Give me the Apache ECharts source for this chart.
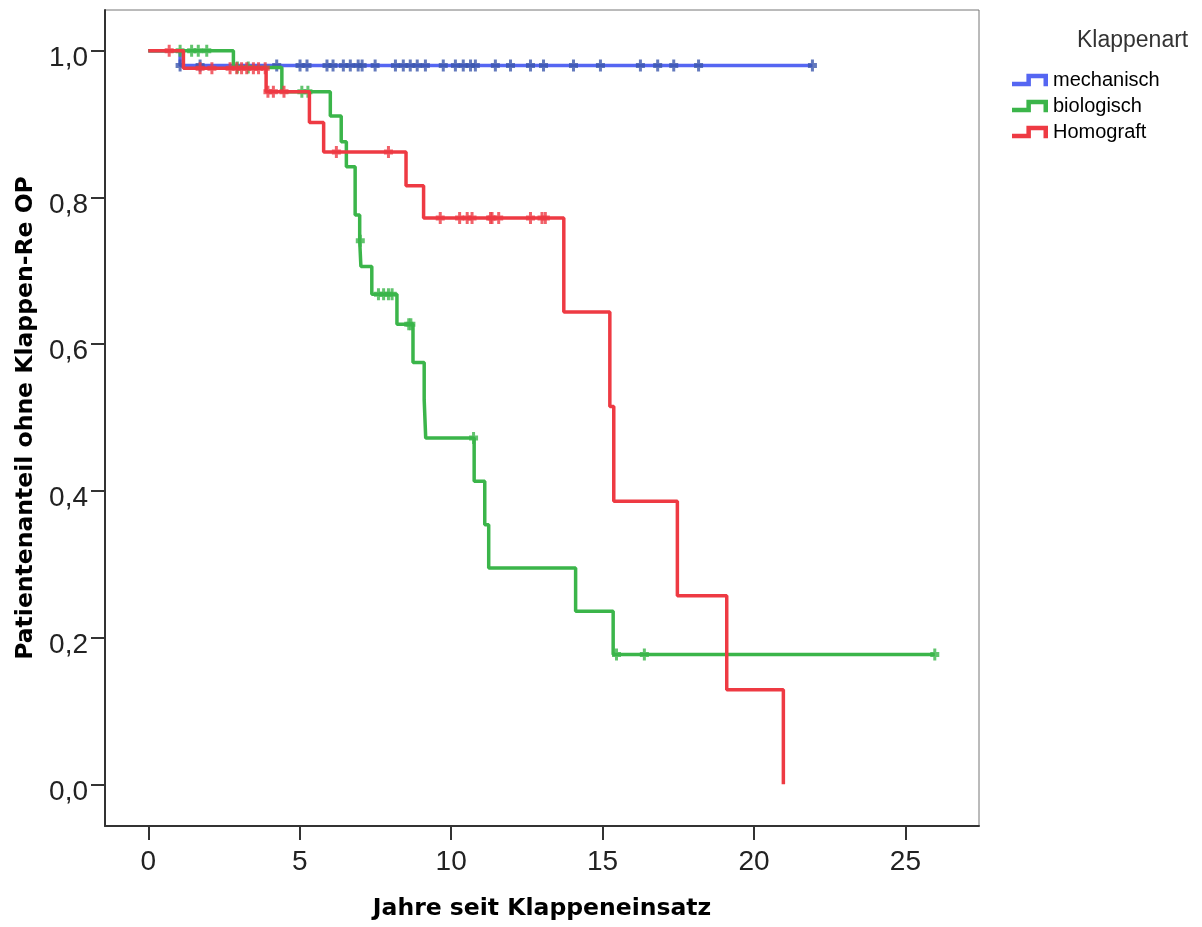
<!DOCTYPE html>
<html>
<head>
<meta charset="utf-8">
<script src="https://cdn.jsdelivr.net/npm/echarts@6/dist/echarts.min.js"></script>
<style>
  html, body { margin: 0; padding: 0; background: #ffffff; }
  #chart { width: 1202px; height: 927px; }
</style>
</head>
<body>
<div id="chart"></div>
<script>
// Kaplan-Meier-Kurven: Anteil der Patienten ohne Klappen-Re-OP, getrennt nach Klappenart

const groupNames = ['mechanisch', 'biologisch', 'Homograft'];
const legendTitle = 'Klappenart';
const xAxisTitle = 'Jahre seit Klappeneinsatz';
const yAxisTitle = 'Patientenanteil ohne Klappen-Re OP';

// Stufenzeitpunkte (Jahre) und Anteil nach der Stufe; letzter Eintrag = Ende der Nachbeobachtung
const mechTime = [0, 1.05, 21.93];
const mechSurv = [1.0, 0.980, 0.980];
const mechCensored = [1.05, 1.71, 4.24, 5.01, 5.24, 5.9, 6.1, 6.44, 6.67, 6.93, 7.06, 7.49,
  8.16, 8.42, 8.65, 8.88, 9.15, 9.74, 10.14, 10.40, 10.64, 10.80, 11.46, 11.96, 12.62,
  13.05, 14.04, 14.93, 16.25, 16.82, 17.35, 18.17, 21.93];

const bioTime = [0, 2.81, 4.41, 6.01, 6.37, 6.54, 6.83, 6.98, 7.02, 7.38, 8.21, 8.74,
  9.11, 9.16, 10.76, 11.11, 11.24, 14.11, 15.35, 25.97];
const bioSurv = [1.0, 0.977, 0.944, 0.911, 0.876, 0.842, 0.776, 0.741, 0.706, 0.668, 0.627, 0.575,
  0.524, 0.472, 0.413, 0.354, 0.295, 0.236, 0.177, 0.177];
const bioCensored = [1.05, 1.43, 1.65, 1.93, 2.94, 3.3, 5.07, 5.27, 7.0, 7.60, 7.77, 7.93, 8.05,
  8.60, 8.67, 10.74, 15.46, 16.38, 25.97];

const homTime = [0, 1.16, 3.89, 5.32, 5.79, 8.51, 9.09, 13.72, 15.24, 15.37, 17.47, 19.10, 20.97];
const homSurv = [1.0, 0.976, 0.944, 0.902, 0.862, 0.816, 0.772, 0.644, 0.515, 0.386, 0.257, 0.129, 0.0];
const homCensored = [0.69, 1.71, 2.10, 2.70, 2.92, 3.08, 3.25, 3.47, 3.64, 3.86, 3.95, 4.13, 4.48,
  6.21, 7.93, 9.64, 10.28, 10.53, 10.69, 11.30, 11.35, 11.57, 12.62, 13.0, 13.11];

const xTicks = [0, 5, 10, 15, 20, 25];
const yTicks = [0, 0.2, 0.4, 0.6, 0.8, 1.0];

const lineColors = ['#5566f2', '#3bb54a', '#ee3a43'];
const markColors = ['#3c58ad', '#3bb54a', '#ee3a43'];

// Punkte der Treppenkurve
function stepPoints(time, surv) {
  return time.map((t, i) => [t, surv[i]]);
}
// Anteil zum Zeitpunkt t (rechtsstetige Treppenfunktion)
function survivalAt(time, surv, t) {
  let s = surv[0];
  for (let i = 0; i < time.length; i++) {
    if (time[i] <= t + 1e-9) s = surv[i];
  }
  return s;
}
function censorPoints(time, surv, cens) {
  return cens.map(t => [t, survivalAt(time, surv, t)]);
}

// Zensierungsmarke "+"
const plusMark = 'path://M3,0L6,0L6,3.5L9,3.5L9,8.5L6,8.5L6,12L3,12L3,8.5L0,8.5L0,3.5L3,3.5Z';
// Legendensymbol: kleine Treppenstufe
const stepIcon = 'path://M0,9L16,9L16,0L40,0L40,14L35,14L35,5L21,5L21,14L0,14Z';

const groups = [
  { time: mechTime, surv: mechSurv, cens: mechCensored },
  { time: bioTime, surv: bioSurv, cens: bioCensored },
  { time: homTime, surv: homSurv, cens: homCensored }
];

const series = [];
groups.forEach((g, i) => {
  series.push({
    name: groupNames[i],
    type: 'line',
    step: 'end',
    data: stepPoints(g.time, g.surv),
    showSymbol: false,
    symbol: 'none',
    color: lineColors[i],
    lineStyle: { width: 3.5, color: lineColors[i] },
    z: 2 + i * 2,
    silent: true
  });
});
groups.forEach((g, i) => {
  series.push({
    name: groupNames[i] + ' zensiert',
    type: 'scatter',
    data: censorPoints(g.time, g.surv, g.cens),
    symbol: plusMark,
    symbolSize: [9, 12],
    itemStyle: { color: markColors[i] },
    z: 3 + i * 2,
    silent: true
  });
});

const tickFont = { fontFamily: 'Liberation Sans', fontSize: 28, color: '#222' };
const nameFont = { fontFamily: 'DejaVu Sans', fontWeight: 'bold', fontSize: 23.5, color: '#000' };

const chart = echarts.init(document.getElementById('chart'), null, { renderer: 'canvas' });
chart.setOption({
  animation: false,
  backgroundColor: '#ffffff',
  title: {
    text: legendTitle,
    left: 1077,
    top: 29,
    padding: 0,
    textStyle: { fontFamily: 'Liberation Sans', fontWeight: 'normal', fontSize: 23, color: '#333' }
  },
  legend: {
    data: groupNames,
    orient: 'vertical',
    left: 1012,
    top: 70,
    padding: 0,
    icon: stepIcon,
    itemWidth: 36,
    itemHeight: 14,
    itemGap: 6,
    selectedMode: false,
    itemStyle: { borderWidth: 0 },
    textStyle: { fontFamily: 'Liberation Sans', fontSize: 20, color: '#000', lineHeight: 20 }
  },
  grid: {
    left: 105,
    right: 223,
    top: 10,
    bottom: 101,
    show: true,
    borderColor: '#777',
    borderWidth: 1,
    backgroundColor: '#ffffff'
  },
  xAxis: {
    type: 'value',
    min: -1.43,
    max: 27.43,
    name: xAxisTitle,
    nameLocation: 'middle',
    nameGap: 71,
    nameTextStyle: nameFont,
    axisLine: { show: true, onZero: false, lineStyle: { color: '#333', width: 2 } },
    axisTick: { show: true, inside: false, length: 14, customValues: xTicks, lineStyle: { color: '#333', width: 2 } },
    axisLabel: { customValues: xTicks, margin: 22, ...tickFont },
    splitLine: { show: false }
  },
  yAxis: {
    type: 'value',
    min: -0.0568,
    max: 1.0555,
    name: yAxisTitle,
    nameLocation: 'middle',
    nameGap: 67,
    nameTextStyle: nameFont,
    axisLine: { show: true, onZero: false, lineStyle: { color: '#333', width: 2 } },
    axisTick: { show: true, inside: false, length: 14, customValues: yTicks, lineStyle: { color: '#333', width: 2 } },
    axisLabel: {
      customValues: yTicks,
      margin: 17,
      verticalAlign: 'top',
      lineHeight: 15,
      formatter: v => v.toFixed(1).replace('.', ','),
      ...tickFont
    },
    splitLine: { show: false }
  },
  series: series
});
</script>
</body>
</html>
